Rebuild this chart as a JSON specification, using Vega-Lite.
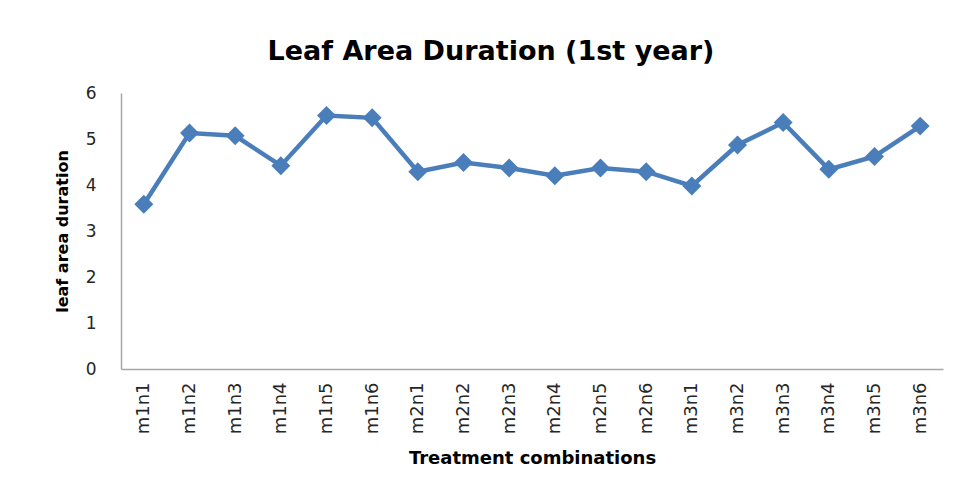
{
  "$schema": "https://vega.github.io/schema/vega-lite/v6.json",
  "autosize": {"type": "none"},
  "padding": {"left": 121, "top": 93, "right": 16, "bottom": 122},
  "width": 822,
  "height": 276,
  "background": "white",
  "title": {
    "text": "Leaf Area Duration  (1st year)",
    "font": "DejaVu Sans",
    "fontSize": 27,
    "fontWeight": "bold",
    "color": "#000000",
    "anchor": "middle",
    "dx": -41,
    "offset": 18
  },
  "config": {
    "view": {"stroke": null},
    "font": "DejaVu Sans"
  },
  "data": {
    "values": [
      {"treatment": "m1n1", "lad": 3.58},
      {"treatment": "m1n2", "lad": 5.13},
      {"treatment": "m1n3", "lad": 5.07},
      {"treatment": "m1n4", "lad": 4.42},
      {"treatment": "m1n5", "lad": 5.51},
      {"treatment": "m1n6", "lad": 5.46},
      {"treatment": "m2n1", "lad": 4.29},
      {"treatment": "m2n2", "lad": 4.49},
      {"treatment": "m2n3", "lad": 4.37},
      {"treatment": "m2n4", "lad": 4.20},
      {"treatment": "m2n5", "lad": 4.37},
      {"treatment": "m2n6", "lad": 4.29},
      {"treatment": "m3n1", "lad": 3.98},
      {"treatment": "m3n2", "lad": 4.87},
      {"treatment": "m3n3", "lad": 5.36},
      {"treatment": "m3n4", "lad": 4.34},
      {"treatment": "m3n5", "lad": 4.62},
      {"treatment": "m3n6", "lad": 5.28}
    ]
  },
  "encoding": {
    "x": {
      "field": "treatment",
      "type": "ordinal",
      "sort": null,
      "scale": {"paddingInner": 0, "paddingOuter": 0.5},
      "axis": {
        "title": "Treatment combinations",
        "titleFont": "DejaVu Sans",
        "titleFontSize": 18,
        "titleFontWeight": "bold",
        "titleColor": "#000000",
        "titlePadding": 16,
        "labelAngle": -90,
        "labelFont": "DejaVu Sans",
        "labelFontSize": 18,
        "labelColor": "#262626",
        "labelPadding": 13,
        "ticks": false,
        "domainColor": "#a6a6a6",
        "domainWidth": 1.5,
        "grid": false
      }
    },
    "y": {
      "field": "lad",
      "type": "quantitative",
      "scale": {"domain": [0, 6], "nice": false},
      "axis": {
        "title": "leaf area duration",
        "titleFont": "DejaVu Sans",
        "titleFontSize": 16,
        "titleFontWeight": "bold",
        "titleColor": "#000000",
        "titlePadding": 15,
        "values": [0, 1, 2, 3, 4, 5, 6],
        "labelFont": "DejaVu Sans",
        "labelFontSize": 17,
        "labelColor": "#262626",
        "labelPadding": 25,
        "ticks": false,
        "domainColor": "#a6a6a6",
        "domainWidth": 1.5,
        "grid": false
      }
    }
  },
  "layer": [
    {
      "mark": {"type": "line", "color": "#4a7ebb", "strokeWidth": 4.5}
    },
    {
      "mark": {"type": "point", "shape": "diamond", "filled": true, "color": "#4a7ebb", "size": 360, "opacity": 1}
    }
  ]
}
